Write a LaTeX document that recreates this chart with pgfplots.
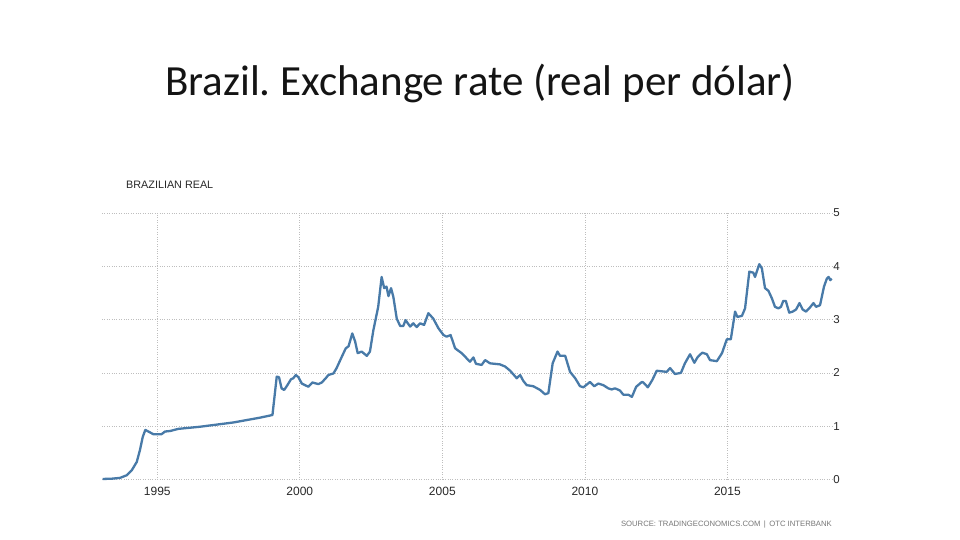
\documentclass[border=0pt]{standalone}
\usepackage{pgfplots}
\pgfplotsset{compat=1.18}
\usepackage{fontspec}
\setmainfont{Liberation Sans}
\newfontfamily\titlefont{Carlito}
\definecolor{lineblue}{RGB}{72,122,168}
\definecolor{gridgray}{RGB}{190,190,190}
\definecolor{labgray}{RGB}{40,40,40}
\definecolor{srcgray}{RGB}{120,120,120}
\frenchspacing
\begin{document}
\begin{tikzpicture}
\useasboundingbox (0pt,0pt) rectangle (960pt,540pt);
\fill[white] (0pt,0pt) rectangle (960pt,540pt);
\node[anchor=base, inner sep=0pt, text={rgb,255:red,20;green,20;blue,20}] at (480pt,444pt) {\titlefont\fontsize{43}{50}\selectfont Brazil. Exchange rate (real per dólar)};
\node[anchor=base west, inner sep=0pt, text=labgray] at (126pt,351pt) {\fontsize{10.8}{12}\selectfont BRAZILIAN REAL};
\node[anchor=base east, inner sep=0pt, text=srcgray] at (832pt,13pt) {\fontsize{7.7}{9}\selectfont SOURCE: TRADINGECONOMICS.COM \,|\, OTC INTERBANK};
\begin{axis}[
  at={(102pt,60.5pt)}, anchor=south west,
  scale only axis, width=729.7pt, height=266.5pt,
  xmin=1993.06, xmax=2018.66, ymin=0, ymax=5,
  axis line style={draw=none},
  major tick length=0pt,
  xtick={1995,2000,2005,2010,2015},
  ytick={0,1,2,3,4,5},
  grid=major,
  grid style={dotted, gridgray, line width=0.7pt},
  yticklabel pos=right,
  /pgf/number format/assume math mode=true,
  x tick label style={/pgf/number format/1000 sep={}, font=\fontsize{12}{13}\selectfont, text=labgray, anchor=north, inner sep=0pt, yshift=-7pt},
  y tick label style={font=\fontsize{11.5}{12}\selectfont, text=labgray, anchor=west, inner sep=0pt, xshift=1.5pt},
  clip=false,
]
\addplot[lineblue, line width=2.3pt, line join=round] coordinates {
(1993.08,0.01) (1993.40,0.015) (1993.69,0.03) (1993.93,0.08) (1994.10,0.17) (1994.28,0.33)
(1994.39,0.55) (1994.49,0.80) (1994.58,0.93) (1994.74,0.885) (1994.86,0.85) (1995.15,0.85)
(1995.27,0.90) (1995.45,0.91) (1995.74,0.95) (1996.50,0.99) (1997.67,1.07) (1998.60,1.16)
(1999.04,1.21) (1999.19,1.93) (1999.27,1.92) (1999.36,1.71) (1999.45,1.68) (1999.54,1.75)
(1999.69,1.88) (1999.77,1.90) (1999.86,1.96) (1999.95,1.92) (2000.07,1.80) (2000.30,1.74)
(2000.44,1.82) (2000.65,1.79) (2000.77,1.82) (2000.91,1.90) (2001.00,1.96) (2001.18,1.99)
(2001.29,2.09) (2001.47,2.30) (2001.61,2.46) (2001.71,2.50) (2001.84,2.74) (2001.94,2.59)
(2002.03,2.37) (2002.17,2.40) (2002.35,2.32) (2002.46,2.40) (2002.58,2.80) (2002.75,3.24)
(2002.87,3.80) (2002.96,3.59) (2003.04,3.62) (2003.11,3.44) (2003.20,3.59) (2003.28,3.43)
(2003.40,3.02) (2003.52,2.88) (2003.63,2.88) (2003.71,2.99) (2003.87,2.87) (2003.98,2.93)
(2004.10,2.86) (2004.22,2.93) (2004.36,2.90) (2004.51,3.12) (2004.68,3.02) (2004.86,2.84)
(2005.04,2.71) (2005.15,2.68) (2005.29,2.71) (2005.45,2.46) (2005.68,2.37) (2005.86,2.27)
(2005.97,2.21) (2006.09,2.29) (2006.18,2.17) (2006.38,2.15) (2006.50,2.24) (2006.67,2.18)
(2007.02,2.16) (2007.20,2.12) (2007.38,2.04) (2007.61,1.90) (2007.73,1.96) (2007.84,1.85)
(2007.96,1.77) (2008.19,1.75) (2008.43,1.68) (2008.60,1.60) (2008.72,1.62) (2008.87,2.18)
(2009.04,2.40) (2009.13,2.32) (2009.31,2.32) (2009.48,2.02) (2009.66,1.90) (2009.83,1.75)
(2009.95,1.73) (2010.18,1.83) (2010.33,1.75) (2010.47,1.80) (2010.65,1.77) (2010.82,1.71)
(2010.94,1.69) (2011.06,1.71) (2011.23,1.67) (2011.35,1.59) (2011.53,1.59) (2011.65,1.55)
(2011.80,1.74) (2012.00,1.83) (2012.05,1.82) (2012.21,1.73) (2012.37,1.87) (2012.52,2.04)
(2012.87,2.02) (2012.99,2.09) (2013.16,1.98) (2013.37,2.00) (2013.51,2.18) (2013.69,2.35)
(2013.84,2.19) (2013.96,2.30) (2014.12,2.38) (2014.28,2.35) (2014.39,2.24) (2014.63,2.22)
(2014.81,2.37) (2014.98,2.63) (2015.12,2.63) (2015.27,3.15) (2015.35,3.05) (2015.51,3.07)
(2015.62,3.21) (2015.77,3.90) (2015.91,3.88) (2015.97,3.80) (2016.12,4.04) (2016.21,3.96)
(2016.32,3.59) (2016.44,3.54) (2016.56,3.40) (2016.67,3.24) (2016.79,3.21) (2016.88,3.24)
(2016.96,3.35) (2017.05,3.35) (2017.17,3.13) (2017.29,3.15) (2017.41,3.19) (2017.53,3.31)
(2017.64,3.19) (2017.76,3.15) (2017.90,3.23) (2018.02,3.31) (2018.11,3.24) (2018.25,3.27)
(2018.39,3.62) (2018.49,3.77) (2018.55,3.80) (2018.61,3.74) (2018.66,3.77)
};
\end{axis}
\end{tikzpicture}
\end{document}
